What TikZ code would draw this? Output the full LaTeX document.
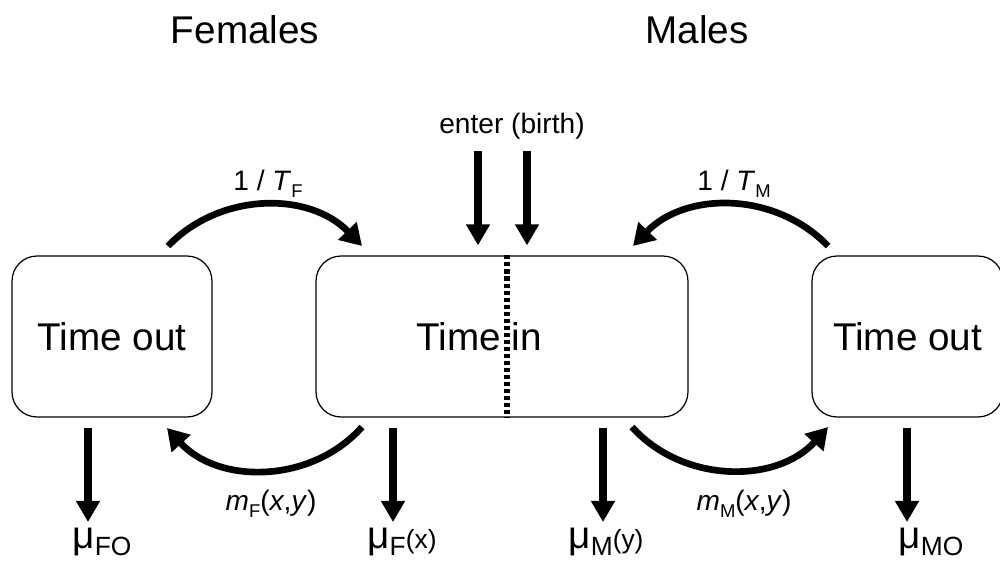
\documentclass[tikz,border=0pt]{standalone}
\usepackage{fontspec}
\setmainfont{Liberation Sans}
\usetikzlibrary{arrows.meta}

\newcommand{\lowsub}[1]{\raisebox{-4pt}{\fontsize{10.5}{12}\selectfont #1}}
\newcommand{\mortal}[2]{{\fontsize{22}{26}\selectfont μ}{\fontsize{15}{18}\selectfont\raisebox{-4.5pt}{#1}#2}}

\begin{document}
\begin{tikzpicture}[
  x=0.02cm, y=-0.02cm,
  box/.style={rectangle, draw, line width=0.7pt, rounded corners=0.5cm, minimum height=3.22cm, inner sep=0pt, font=\fontsize{22}{26}\selectfont},
  title/.style={font=\fontsize{22}{26}\selectfont, anchor=base},
  rate/.style={font=\fontsize{16}{19}\selectfont, anchor=base},
  flow/.style={-{Triangle[width=13pt,length=12pt]}, line width=4.2pt},
  bendflow/.style={-{Triangle[width=14pt,length=12pt]}, line width=3.8pt},
  split/.style={line width=3pt, dash pattern=on 2.3pt off 1.7pt}
]
\useasboundingbox (0,0) rectangle (1000,565);

\node (fem) [title] at (245,43) {Females};
\node (mal) [title] at (697,43) {Males};

\node (outF) [box, minimum width=4cm] at (112,336.5) {Time out};
\node (inn) [box, minimum width=7.44cm] at (502,336.5) {};
\node (outM) [box, minimum width=3.82cm] at (907.5,336.5) {Time out};
\node (inlab) [title] at (479,350) {Time in};

\draw [split] ([xshift=0.1cm]inn.north) -- ([xshift=0.1cm]inn.south);

% births
\node (enter) [rate] at (512,133) {enter (birth)};
\coordinate (entA) at (478,151);
\coordinate (entB) at (527,151);
\draw [flow, shorten >=5.7pt] (entA) -- (entA |- inn.north);
\draw [flow, shorten >=5.7pt] (entB) -- (entB |- inn.north);

% return from time out
\coordinate (tFs) at (168,246);
\coordinate (tFe) at (362,246);
\coordinate (tMs) at (828,246);
\coordinate (tMe) at (633,246);
\draw [bendflow] (tFs) to[bend left=46] (tFe);
\draw [bendflow] (tMs) to[bend right=46] (tMe);
\node (rtF) [rate] at (268,190) {1 / \textit{T}\lowsub{F}};
\node (rtM) [rate] at (734,190) {1 / \textit{T}\lowsub{M}};

% mating
\coordinate (mFs) at (362,427);
\coordinate (mFe) at (167,428);
\coordinate (mMs) at (632,427);
\coordinate (mMe) at (828,427);
\draw [bendflow] (mFs) to[bend left=48] (mFe);
\draw [bendflow] (mMs) to[bend right=48] (mMe);
\node (mtF) [rate] at (271,510) {\textit{m}\lowsub{F}(\textit{x},\textit{y})};
\node (mtM) [rate] at (744,510) {\textit{m}\lowsub{M}(\textit{x},\textit{y})};

% deaths
\coordinate (dFO) at (88,522);
\coordinate (dF) at (393,522);
\coordinate (dM) at (603,522);
\coordinate (dMO) at (907,522);
\draw [flow, shorten <=5.7pt] (dFO |- outF.south) -- (dFO);
\draw [flow, shorten <=5.7pt] (dF |- inn.south) -- (dF);
\draw [flow, shorten <=5.7pt] (dM |- inn.south) -- (dM);
\draw [flow, shorten <=5.7pt] (dMO |- outM.south) -- (dMO);
\node (muFO) [anchor=base] at (102,548) {\mortal{FO}{}};
\node (muF) [anchor=base] at (402,548) {\mortal{F}{(x)}};
\node (muM) [anchor=base] at (606,548) {\mortal{M}{(y)}};
\node (muMO) [anchor=base] at (931,548) {\mortal{MO}{}};

\end{tikzpicture}
\end{document}
